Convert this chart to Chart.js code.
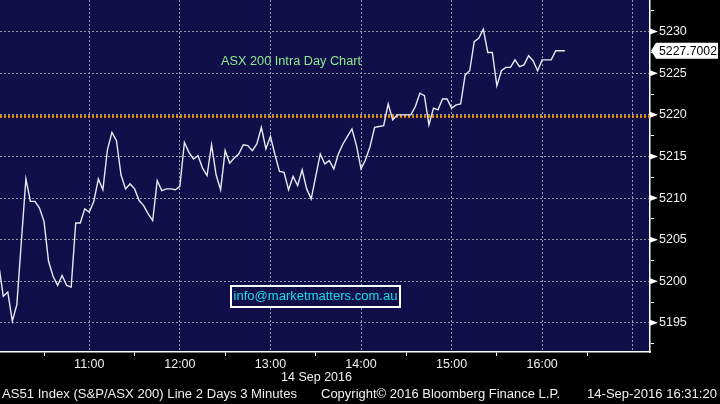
<!DOCTYPE html>
<html><head><meta charset="utf-8">
<script src="https://cdn.jsdelivr.net/npm/chart.js@4.4.1/dist/chart.umd.min.js"></script>
<style>html,body{margin:0;padding:0;background:#000;overflow:hidden}#wrap{width:720px;height:404px;position:relative}canvas{display:block}</style>
</head><body><div id="wrap"><canvas id="c" width="720" height="404"></canvas></div>
<script>
// ---- data ----
const times = [
"10:00","10:03","10:06","10:09","10:12","10:15","10:18","10:21","10:24","10:27","10:30","10:33","10:36","10:39","10:42","10:45","10:48","10:51","10:54","10:57",
"11:00","11:03","11:06","11:09","11:12","11:15","11:18","11:21","11:24","11:27","11:30","11:33","11:36","11:39","11:42","11:45","11:48","11:51","11:54","11:57",
"12:00","12:03","12:06","12:09","12:12","12:15","12:18","12:21","12:24","12:27","12:30","12:33","12:36","12:39","12:42","12:45","12:48","12:51","12:54","12:57",
"13:00","13:03","13:06","13:09","13:12","13:15","13:18","13:21","13:24","13:27","13:30","13:33","13:36","13:39","13:42","13:45","13:48","13:51","13:54","13:57",
"14:00","14:03","14:06","14:09","14:12","14:15","14:18","14:21","14:24","14:27","14:30","14:33","14:36","14:39","14:42","14:45","14:48","14:51","14:54","14:57",
"15:00","15:03","15:06","15:09","15:12","15:15","15:18","15:21","15:24","15:27","15:30","15:33","15:36","15:39","15:42","15:45","15:48","15:51","15:54","15:57",
"16:00","16:03","16:06","16:09","16:12","16:15"];
const closes = [
5202.0,5198.2,5198.7,5195.2,5197.2,5204.8,5212.3,5209.6,5209.6,5208.8,5207.2,5202.4,5200.6,5199.5,5200.7,5199.5,5199.3,5207.0,5207.0,5208.7,
5208.3,5209.6,5212.3,5211.0,5215.8,5217.9,5216.9,5212.8,5211.1,5211.7,5211.1,5209.7,5209.1,5208.1,5207.3,5212.1,5210.9,5211.1,5211.1,5211.0,
5211.4,5216.7,5215.5,5214.7,5215.1,5213.6,5212.7,5216.4,5212.8,5211.0,5215.7,5214.2,5214.8,5215.3,5216.4,5216.3,5215.7,5216.5,5218.5,5215.9,
5217.4,5215.2,5213.2,5213.1,5211.0,5212.6,5211.5,5213.4,5211.1,5209.9,5212.6,5215.3,5214.1,5214.5,5213.5,5215.3,5216.5,5217.4,5218.3,5216.3,
5213.5,5214.6,5216.2,5218.5,5218.6,5218.7,5221.3,5219.4,5220.0,5220.0,5220.0,5220.0,5221.0,5222.6,5222.3,5218.8,5220.8,5220.6,5221.9,5221.9,
5220.8,5221.2,5221.3,5224.8,5225.3,5228.8,5229.2,5230.3,5227.5,5227.5,5223.5,5225.3,5225.7,5225.7,5226.6,5225.8,5226.0,5227.1,5226.5,5225.3,
5226.6,5226.6,5226.6,5227.7,5227.7,5227.7002];
const prevClose = 5219.8;
const xTickLabels = ["11:00","12:00","13:00","14:00","15:00","16:00"];
const yTickLabels = ["5195","5200","5205","5210","5215","5220","5225","5230"];
const chartTitle = "ASX 200 Intra Day Chart";
const emailText = "info@marketmatters.com.au";
const dateText = "14 Sep 2016";
const footerLeft = "AS51 Index (S&P/ASX 200) Line 2 Days 3 Minutes";
const footerMid = "Copyright\u00A9 2016 Bloomberg Finance L.P.";
const footerRight = "14-Sep-2016 16:31:20";

// ---- build ----
const toMin = s => { const p = s.split(':').map(Number); return p[0]*60 + p[1]; };
const points = times.map((t,i)=>({x:toMin(t), y:closes[i]}));
const X_MIN = 600.84, X_MAX = 1031.45, Y_MIN = 5191.5, Y_MAX = 5233.8;
const xLabelByMin = {}; xTickLabels.forEach(l => xLabelByMin[toMin(l)] = l);
const yLabelSet = new Set(yTickLabels.map(Number));
const FONT = '"Liberation Sans", Arial, sans-serif';
const NAVY = '#100f4a';
const GRID = '#9a9aa6';

function fitText(ctx, text, x, y, width, align) {
  const w = ctx.measureText(text).width;
  let k = width / w; k = Math.max(0.85, Math.min(1.15, k));
  ctx.save();
  ctx.translate(x, y); ctx.scale(k, 1);
  ctx.textAlign = align || 'left';
  ctx.fillText(text, 0, 0);
  ctx.restore();
}

const decor = {
  id: 'decor',
  beforeDraw(chart) {
    const {ctx, chartArea: a} = chart;
    ctx.save();
    ctx.fillStyle = '#000'; ctx.fillRect(0,0,chart.width,chart.height);
    ctx.fillStyle = NAVY; ctx.fillRect(a.left, a.top, a.right-a.left, a.bottom-a.top);
    ctx.restore();
  },
  beforeDatasetsDraw(chart) {
    const {ctx} = chart;
    ctx.save();
    ctx.font = '12.5px ' + FONT; ctx.textBaseline = 'middle';
    ctx.fillStyle = '#8eea8e';
    fitText(ctx, chartTitle, 221, 61.5, 140, 'left');
    // email box
    ctx.fillStyle = NAVY; ctx.fillRect(231, 286, 169, 21);
    ctx.strokeStyle = '#ffffff'; ctx.lineWidth = 2; ctx.strokeRect(231, 286, 169, 21);
    ctx.fillStyle = '#19dcef';
    fitText(ctx, emailText, 233.5, 297, 164, 'left');
    ctx.restore();
  },
  afterDraw(chart) {
    const {ctx, chartArea: a} = chart;
    const ys = chart.scales.y;
    ctx.save();
    // flags on major y ticks
    ctx.fillStyle = '#ffffff';
    yTickLabels.forEach(l => {
      const y = ys.getPixelForValue(Number(l));
      ctx.beginPath(); ctx.moveTo(a.right, y-3); ctx.lineTo(a.right+8, y); ctx.lineTo(a.right, y+3); ctx.closePath(); ctx.fill();
    });
    // last value box
    const last = closes[closes.length-1];
    const yl = ys.getPixelForValue(last);
    ctx.beginPath();
    ctx.moveTo(a.right+1, yl); ctx.lineTo(a.right+6, yl-8); ctx.lineTo(718, yl-8); ctx.lineTo(718, yl+8); ctx.lineTo(a.right+6, yl+8); ctx.closePath();
    ctx.fill();
    ctx.fillStyle = '#000'; ctx.font = '12.5px ' + FONT; ctx.textBaseline = 'middle';
    fitText(ctx, last.toFixed(4), 659, yl+0.5, 58, 'left');
    // date and footer
    ctx.fillStyle = '#f0f0f0';
    fitText(ctx, dateText, 281, 378, 71, 'left');
    fitText(ctx, footerLeft, 2, 395, 295, 'left');
    fitText(ctx, footerMid, 321, 395, 239, 'left');
    fitText(ctx, footerRight, 587, 395, 130, 'left');
    ctx.restore();
  }
};

new Chart(document.getElementById('c'), {
  type: 'line',
  data: { datasets: [
    { data: points, borderColor: '#e9e9f2', borderWidth: 1.4, pointRadius: 0, tension: 0, order: 1 },
    { data: [{x:X_MIN,y:prevClose},{x:X_MAX,y:prevClose}], borderColor: '#ff9c00', borderWidth: 2.5, borderDash: [2,2], pointRadius: 0, order: 2 }
  ]},
  options: {
    responsive: false, animation: false, devicePixelRatio: 1,
    layout: { padding: 0, autoPadding: false },
    plugins: { legend: { display: false }, tooltip: { enabled: false }, title: { display: false } },
    scales: {
      x: {
        type: 'linear', position: 'bottom', min: X_MIN, max: X_MAX,
        afterFit: s => { s.height = 52; s.paddingLeft = 0; s.paddingRight = 0; },
        afterBuildTicks: s => { const t = []; for (let v = 630; v <= X_MAX; v += 30) t.push({value: v}); s.ticks = t; },
        grid: {
          color: c => (c.tick && c.tick.value % 60 === 0) ? GRID : 'rgba(0,0,0,0)',
          tickColor: c => (c.tick && c.tick.value % 60 === 0) ? 'rgba(0,0,0,0)' : '#ffffff',
          lineWidth: 1, tickLength: 4, tickWidth: 1
        },
        border: { display: true, color: '#ffffff', width: 1.5, dash: [2,2] },
        ticks: { autoSkip: false, maxRotation: 0, padding: 1, color: '#f0f0f0', font: { family: FONT, size: 12.5 },
          callback: v => xLabelByMin[v] || '' }
      },
      y: {
        type: 'linear', position: 'right', min: Y_MIN, max: Y_MAX,
        afterFit: s => { s.width = 70; s.paddingTop = 0; s.paddingBottom = 0; },
        afterBuildTicks: s => { const t = []; for (let v = 5192.5; v <= Y_MAX; v += 2.5) t.push({value: v}); s.ticks = t; },
        grid: {
          color: c => (c.tick && yLabelSet.has(c.tick.value)) ? GRID : 'rgba(0,0,0,0)',
          tickColor: '#ffffff', lineWidth: 1, tickLength: 4, tickWidth: 1
        },
        border: { display: true, color: '#ffffff', width: 1.5, dash: [2,2] },
        ticks: { autoSkip: false, padding: 5, color: '#f0f0f0', font: { family: FONT, size: 12.5 },
          callback: v => yLabelSet.has(v) ? String(v) : '' }
      }
    }
  },
  plugins: [decor]
});
</script>
</body></html>
